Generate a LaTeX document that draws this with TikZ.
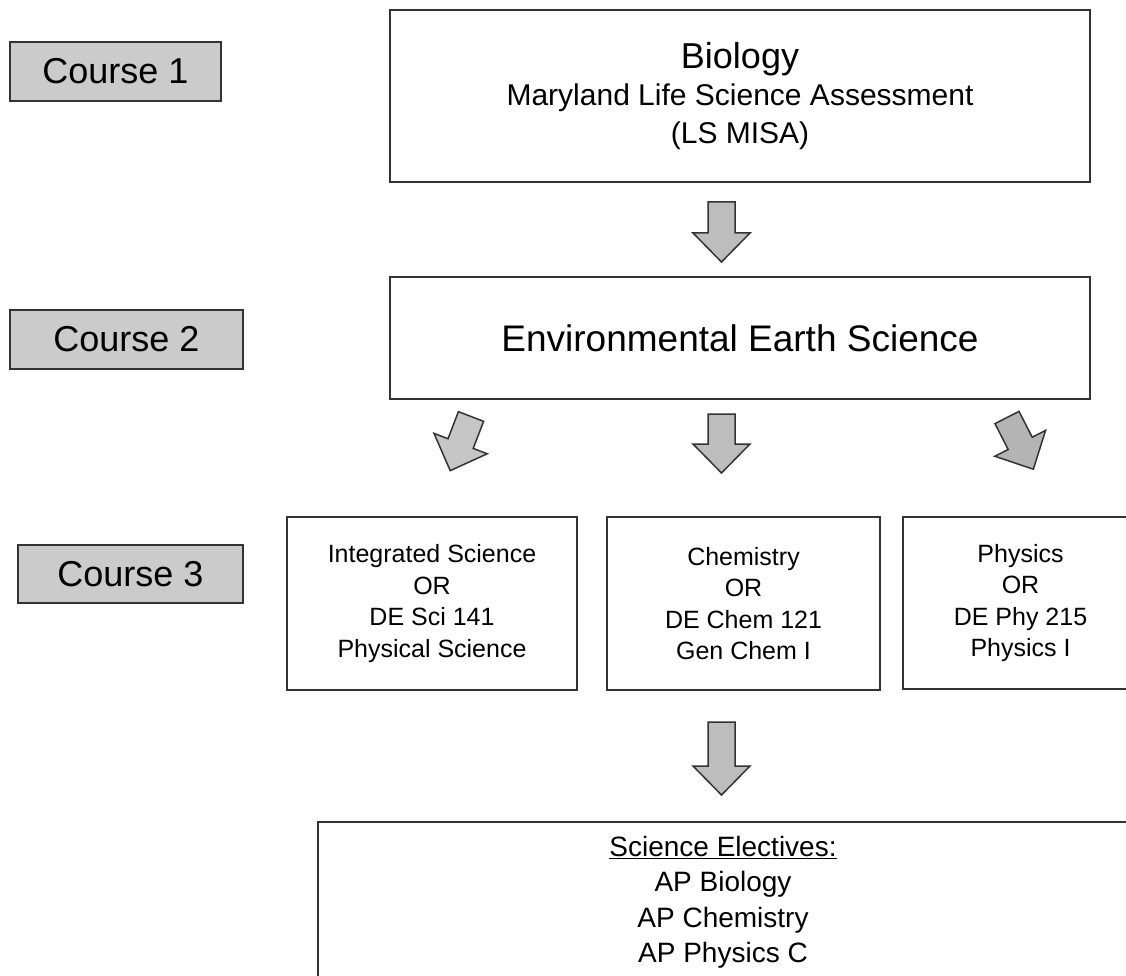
\documentclass[tikz,border=0pt]{standalone}
\usepackage{fontspec}
\setmainfont{Liberation Sans}
\usepackage{tikz}
\usetikzlibrary{shapes,arrows,positioning}

\definecolor{boxline}{HTML}{333333}
\definecolor{coursegray}{HTML}{CBCBCB}
\definecolor{arrowmid}{HTML}{BDBDBD}
\definecolor{arrowlight}{HTML}{C6C6C6}
\definecolor{arrowdark}{HTML}{B4B4B4}

\tikzset{
  coursebox/.style={draw=boxline, line width=1.5pt, fill=coursegray,
    inner sep=0pt, font=\fontsize{36}{40}\selectfont},
  classbox/.style={draw=boxline, line width=1.5pt, fill=white,
    inner sep=0pt, align=center},
  pics/blockarrow/.style 2 args={code={
    \draw[boxline, line width=1.5pt, line join=miter, fill=#2]
      (-13.5,0) -- (13.5,0) -- (13.5,#1-29) -- (28.5,#1-29) -- (0,#1)
      -- (-28.5,#1-29) -- (-13.5,#1-29) -- cycle;
  }},
}

\begin{document}
\begin{tikzpicture}[x=1pt, y=-1pt]
\useasboundingbox (0,0) rectangle (1126,976);
\clip (0,0) rectangle (1126,976);

% course labels
\node[coursebox, minimum width=211pt, minimum height=59pt] (course1) at (115.5,71.5) {Course 1};
\node[coursebox, minimum width=233pt, minimum height=59pt] (course2) at (126.5,339.5) {Course 2};
\node[coursebox, minimum width=225pt, minimum height=58pt] (course3) at (130.5,574) {Course 3};

% course 1 and 2
\node[classbox, minimum width=700pt, minimum height=172pt,
  font=\fontsize{30}{37.5}\selectfont] (biology) at (740,96)
  {{\fontsize{36}{37.5}\selectfont Biology}\\
   Maryland Life Science Assessment\\
   (LS MISA)};
\node[classbox, minimum width=700pt, minimum height=122pt,
  font=\fontsize{37}{40}\selectfont] (earth) at (740,338)
  {Environmental Earth Science};

% course 3 choices
\node[classbox, minimum width=290pt, minimum height=173pt,
  font=\fontsize{25}{31.5}\selectfont] (integ) at (432,603.5)
  {Integrated Science\\ OR\\ DE Sci 141\\ Physical Science};
\node[classbox, minimum width=273pt, minimum height=173pt,
  font=\fontsize{25}{31.5}\selectfont] (chem) at (743.5,603.5)
  {Chemistry\\ OR\\ DE Chem 121\\ Gen Chem I};
\node[classbox, minimum width=235pt, minimum height=172pt,
  font=\fontsize{25}{31.5}\selectfont] (phys) at (1020.5,603)
  {Physics\\ OR\\ DE Phy 215\\ Physics I};

% electives
\node[classbox, minimum width=810pt, minimum height=178pt,
  label={[anchor=north, inner sep=0pt, yshift=-14.5pt, align=center,
    font=\fontsize{28}{35.5}\selectfont]north:{\underline{Science Electives:}\\
    AP Biology\\ AP Chemistry\\ AP Physics C}}] (elect) at (723,911) {};

% arrows
\pic at (721.5,202) {blockarrow={60}{arrowmid}};
\pic at (721.5,414) {blockarrow={59}{arrowmid}};
\pic[rotate=-21] at (471,416.5) {blockarrow={58}{arrowlight}};
\pic[rotate=27] at (1007,417.5) {blockarrow={58}{arrowdark}};
\pic at (721.5,722) {blockarrow={73}{arrowmid}};
\end{tikzpicture}
\end{document}
